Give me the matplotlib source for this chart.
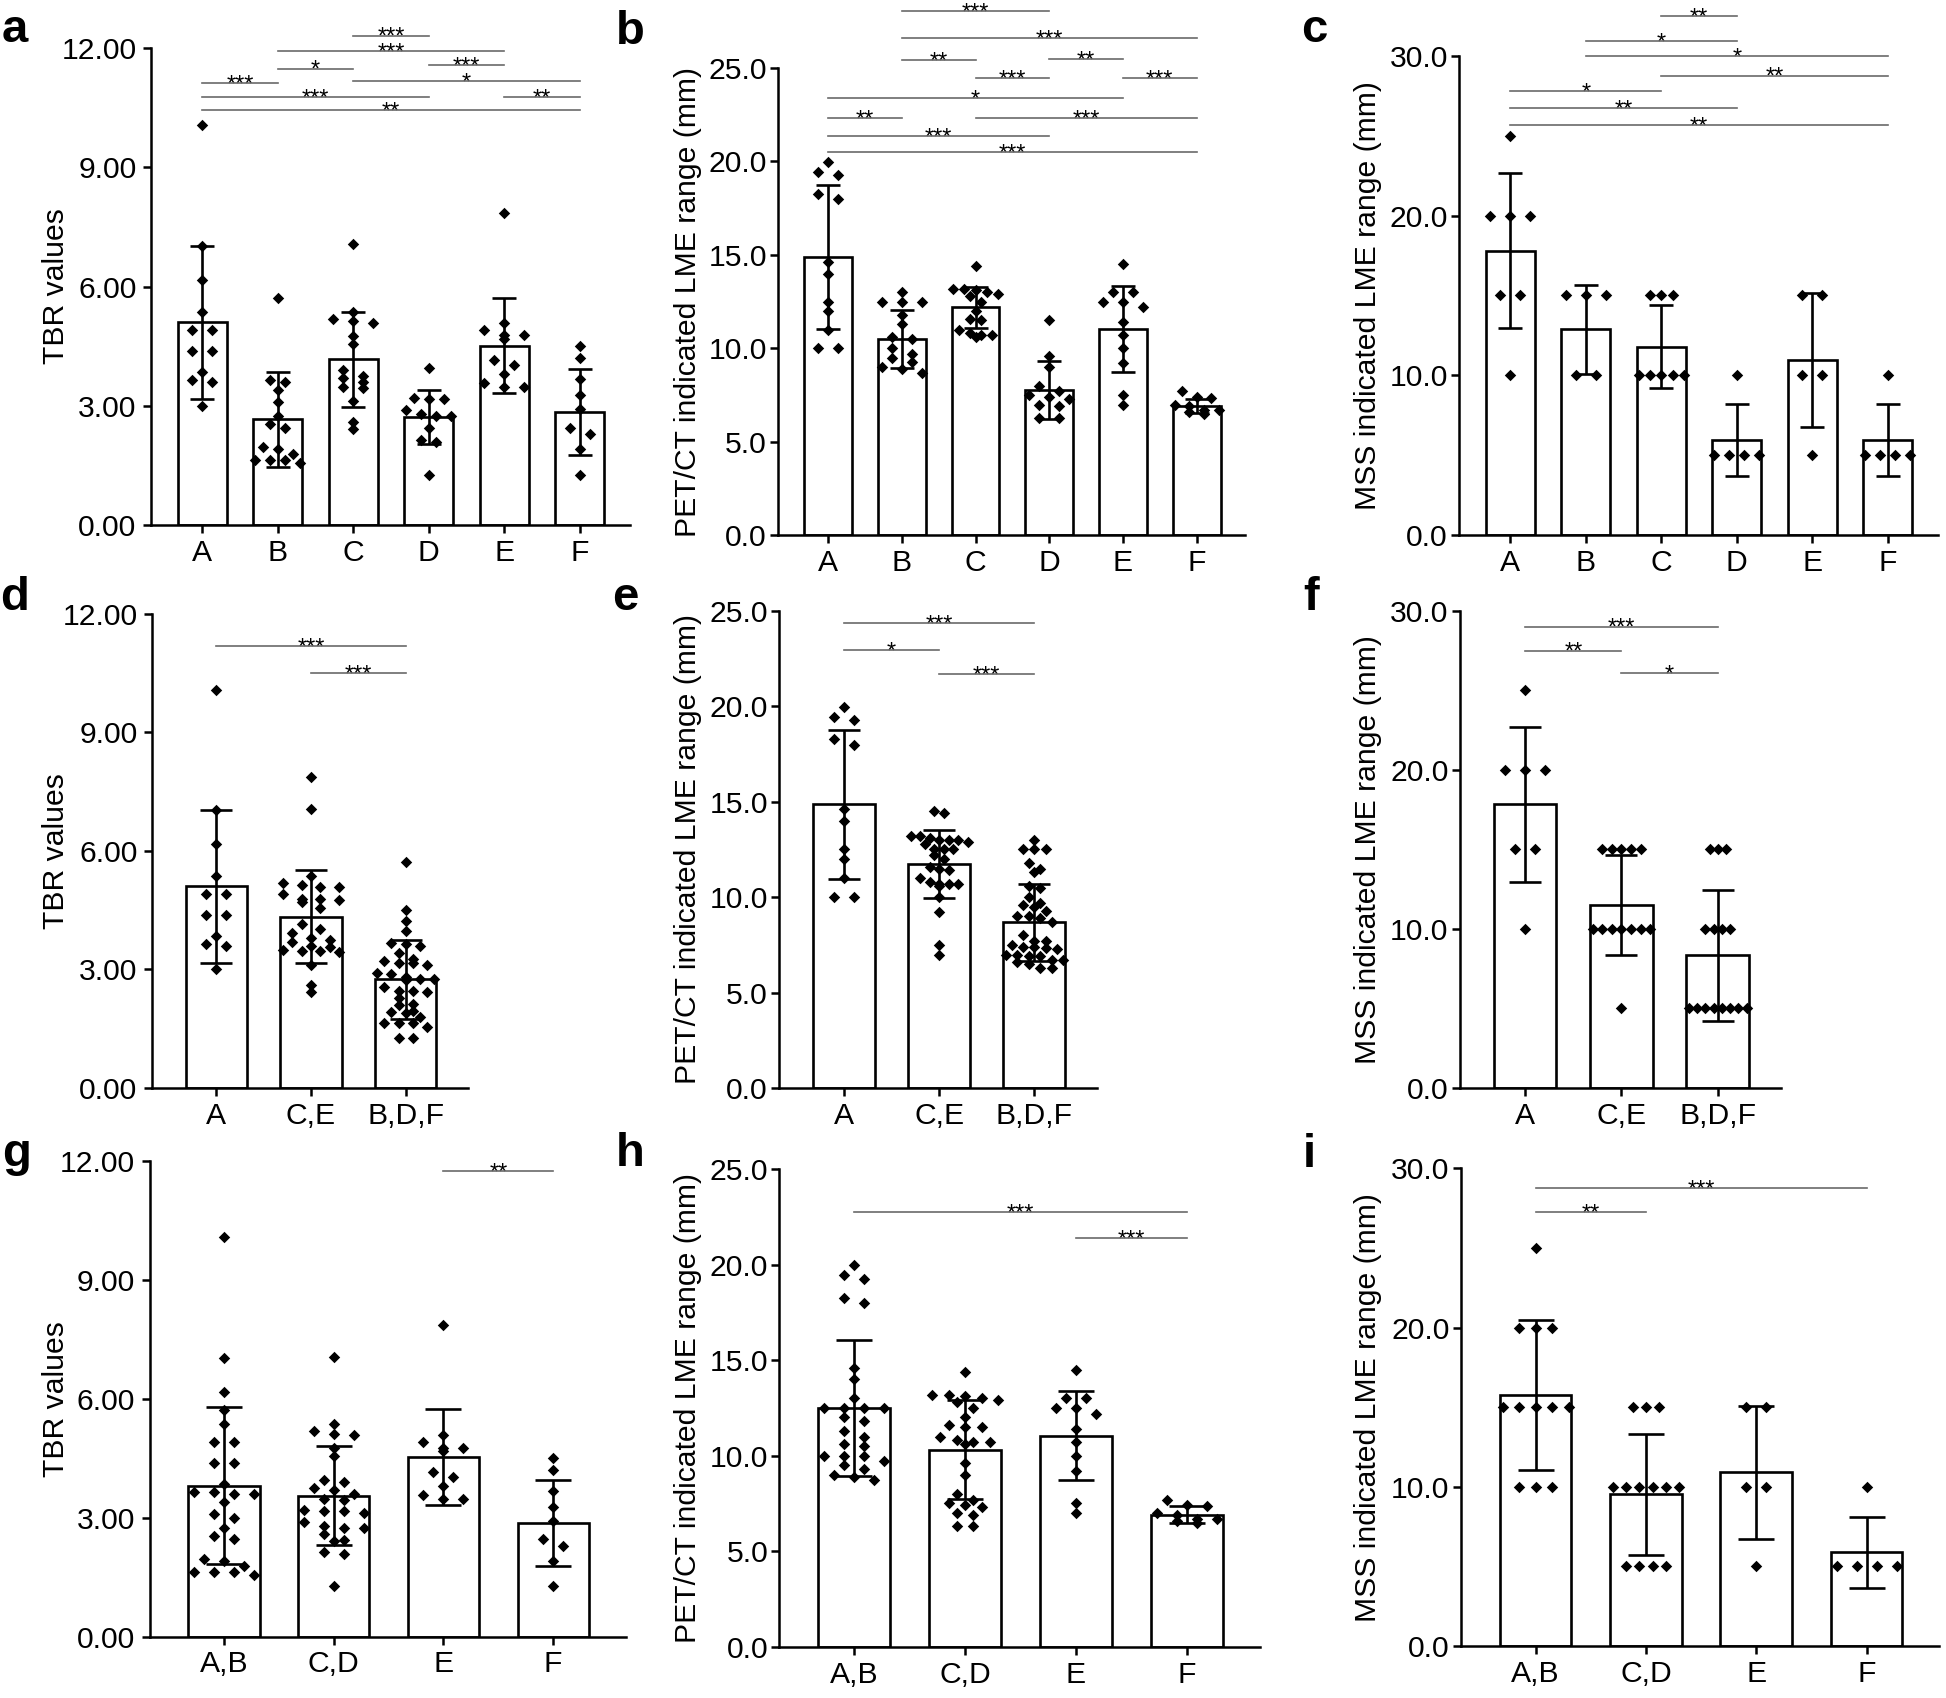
import matplotlib
matplotlib.use("Agg")
import matplotlib.pyplot as plt
import numpy as np

plt.rcParams['font.family'] = ['Liberation Sans', 'DejaVu Sans']

tbr_A = [10.07, 7.02, 6.17, 5.37, 4.90, 4.90, 4.38, 4.38, 3.85, 3.65, 3.60, 3.00]
tbr_B = [5.72, 3.65, 3.60, 3.40, 3.10, 2.75, 2.55, 2.45, 1.95, 1.90, 1.78, 1.63, 1.63, 1.63, 1.55]
tbr_C = [7.06, 5.37, 5.19, 5.12, 5.08, 4.76, 4.56, 3.91, 3.74, 3.69, 3.60, 3.46, 3.44, 3.12, 2.60, 2.42]
tbr_D = [3.96, 3.20, 3.16, 3.16, 2.89, 2.80, 2.75, 2.73, 2.43, 2.13, 2.09, 1.27]
tbr_E = [7.86, 5.08, 4.90, 4.77, 4.77, 4.69, 4.14, 4.03, 3.80, 3.57, 3.48, 3.46]
tbr_F = [4.50, 4.21, 3.67, 3.26, 2.91, 2.45, 2.28, 1.91, 1.27]

pet_A = [19.98, 19.46, 19.27, 18.27, 17.98, 14.6, 14.0, 12.5, 12.0, 11.0, 10.0, 10.0]
pet_B = [13.0, 12.5, 12.5, 12.5, 11.8, 11.3, 10.6, 10.5, 10.0, 9.7, 9.5, 9.3, 9.0, 8.9, 8.7]
pet_C = [14.4, 13.2, 13.2, 13.1, 13.0, 12.9, 12.8, 12.5, 12.0, 11.6, 11.5, 11.0, 10.8, 10.7, 10.7, 10.6]
pet_D = [11.5, 9.6, 9.0, 8.0, 7.7, 7.5, 7.4, 7.3, 7.0, 6.9, 6.3, 6.3]
pet_E = [14.5, 13.0, 13.0, 12.5, 12.5, 12.2, 11.4, 10.7, 10.0, 9.2, 7.5, 7.0]
pet_F = [7.7, 7.4, 7.35, 7.0, 6.9, 6.7, 6.7, 6.6, 6.5]

mss_A = [25, 20, 20, 20, 15, 15, 10]
mss_B = [15, 15, 15, 10, 10]
mss_C = [15, 15, 15, 10, 10, 10, 10, 10]
mss_D = [10, 5, 5, 5, 5]
mss_E = [15, 15, 10, 10, 5]
mss_F = [10, 5, 5, 5, 5]

cats_6 = ['A', 'B', 'C', 'D', 'E', 'F']
cats_3 = ['A', 'C,E', 'B,D,F']
cats_4 = ['A,B', 'C,D', 'E', 'F']

# ---- bar heights (mean) and SD, read per panel ----
a_mean = [5.10, 2.66, 4.17, 2.71, 4.51, 2.84]
a_sd = [1.93, 1.20, 1.20, 0.68, 1.20, 1.08]
b_mean = [14.89, 10.50, 12.21, 7.78, 11.04, 6.92]
b_sd = [3.87, 1.53, 1.10, 1.55, 2.30, 0.39]
c_mean = [17.80, 12.90, 11.80, 5.95, 10.95, 5.95]
c_sd = [4.86, 2.78, 2.60, 2.25, 4.20, 2.25]
d_mean = [5.10, 4.33, 2.75]
d_sd = [1.93, 1.18, 1.00]
e_mean = [14.87, 11.72, 8.68]
e_sd = [3.90, 1.78, 2.03]
f_mean = [17.83, 11.49, 8.32]
f_sd = [4.88, 3.14, 4.10]
g_mean = [3.80, 3.55, 4.53, 2.87]
g_sd = [1.98, 1.25, 1.20, 1.08]
h_mean = [12.50, 10.30, 11.05, 6.92]
h_sd = [3.58, 2.59, 2.31, 0.42]
i_mean = [15.75, 9.54, 10.90, 5.89]
i_sd = [4.70, 3.80, 4.20, 2.23]

# significance bars: (group from, group to, height, stars)
a_sig = [(2, 3, 12.31, '***'), (1, 4, 11.92, '***'), (1, 2, 11.48, '*'), (3, 4, 11.57, '***'),
         (2, 5, 11.17, '*'), (0, 1, 11.12, '***'), (0, 3, 10.76, '***'), (4, 5, 10.76, '**'),
         (0, 5, 10.44, '**')]
b_sig = [(1, 3, 28.05, '***'), (1, 5, 26.59, '***'), (1, 2, 25.41, '**'), (3, 4, 25.49, '**'),
         (2, 3, 24.44, '***'), (4, 5, 24.47, '***'), (0, 4, 23.37, '*'), (0, 1, 22.32, '**'),
         (2, 5, 22.32, '***'), (0, 3, 21.36, '***'), (0, 5, 20.49, '***')]
c_sig = [(2, 3, 32.45, '**'), (1, 3, 30.89, '*'), (1, 5, 29.95, '*'), (2, 5, 28.75, '**'),
         (0, 2, 27.80, '*'), (0, 3, 26.70, '**'), (0, 5, 25.64, '**')]
d_sig = [(0, 2, 11.17, '***'), (1, 2, 10.50, '***')]
e_sig = [(0, 2, 24.34, '***'), (0, 1, 22.92, '*'), (1, 2, 21.66, '***')]
f_sig = [(0, 2, 29.00, '***'), (0, 1, 27.49, '**'), (1, 2, 26.06, '*')]
g_sig = [(2, 3, 11.75, '**')]
h_sig = [(0, 3, 22.76, '***'), (2, 3, 21.39, '***')]
i_sig = [(0, 3, 28.76, '***'), (0, 1, 27.25, '**')]

tbr_ticks = [0, 3, 6, 9, 12]
pet_ticks = [0, 5, 10, 15, 20, 25]
mss_ticks = [0, 10, 20, 30]

W, H = 1946, 1698
fig = plt.figure(figsize=(W / 100, H / 100), dpi=100)
FS = 21.7


def swarm_x(center, vals, unit_px, cat_px, tol=7.0, max_gap=20.0):
    # simple row-based scatter spreading, like Prism's column scatter
    vals = np.asarray(vals, float)
    order = np.argsort(-vals, kind='stable')
    rows = []
    for k in order:
        if rows and (vals[rows[-1][0]] - vals[k]) * unit_px < tol:
            rows[-1].append(k)
        else:
            rows.append([k])
    widest = max(len(r) for r in rows)
    gap = max_gap if widest < 2 else min(max_gap, 0.6 * cat_px / (widest - 1))
    xs = np.full(len(vals), float(center))
    for r in rows:
        for n, k in enumerate(r):
            xs[k] = center + (n - (len(r) - 1) / 2) * gap / cat_px
    return xs


def draw_panel(letter, letter_xy, box, cats, groups, means, sds, sigs,
               ylabel, yticks, fmt, ylab_px, tick_pad):
    left, top, bottom, cat_px = box
    n = len(cats)
    width = (n - 1 + 1.34) * cat_px
    ax = fig.add_axes([left / W, 1 - bottom / H, width / W, (bottom - top) / H])
    x = np.arange(n)
    ymax = yticks[-1]
    unit_px = (bottom - top) / ymax

    ax.bar(x, means, width=0.65, color='white', edgecolor='black', linewidth=1.9, zorder=2)
    for i, g in enumerate(groups):
        ax.scatter(swarm_x(i, g, unit_px, cat_px), g, marker='D', s=34,
                   color='black', linewidths=0, zorder=3)
    ax.errorbar(x, means, yerr=sds, fmt='none', ecolor='black', elinewidth=1.9,
                capsize=0.165 * cat_px * 0.72, capthick=1.9, zorder=4)

    for i, j, y, lab in sigs:
        ax.plot([i, j], [y, y], color='#6a6a6a', lw=1.2, clip_on=False, zorder=5)
        ax.annotate(lab, xy=((i + j) / 2, y), xytext=(0, -6), textcoords='offset points',
                    ha='center', va='baseline', fontsize=17, annotation_clip=False)

    ax.set_xlim(-0.68, n - 1 + 0.66)
    ax.set_ylim(0, ymax)
    ax.set_xticks(x)
    ax.set_xticklabels(cats)
    ax.set_yticks(yticks)
    ax.set_yticklabels([fmt.format(t) for t in yticks])
    for s in ['top', 'right']:
        ax.spines[s].set_visible(False)
    for s in ['left', 'bottom']:
        ax.spines[s].set_linewidth(1.8)
    ax.tick_params(axis='y', direction='out', length=5.5, width=1.8, labelsize=FS, pad=tick_pad)
    ax.tick_params(axis='x', direction='out', length=6, width=1.8, labelsize=FS, pad=4)
    ax.set_ylabel(ylabel, fontsize=FS)
    ax.yaxis.set_label_coords((ylab_px - left) / width, 0.5)

    fig.text(letter_xy[0] / W, 1 - letter_xy[1] / H, letter, fontsize=34,
             fontweight='bold', ha='left', va='baseline')
    return ax


tbr_lab = 'TBR values'
pet_lab = 'PET/CT indicated LME range (mm)'
mss_lab = 'MSS indicated LME range (mm)'

# row 1
draw_panel('a', (2, 42), (151.0, 48.0, 525.0, 75.5), cats_6,
           [tbr_A, tbr_B, tbr_C, tbr_D, tbr_E, tbr_F], a_mean, a_sd, a_sig,
           tbr_lab, tbr_ticks, '{:.2f}', 70, 5)
draw_panel('b', (616, 43.6), (778.0, 68.0, 535.4, 73.7), cats_6,
           [pet_A, pet_B, pet_C, pet_D, pet_E, pet_F], b_mean, b_sd, b_sig,
           pet_lab, pet_ticks, '{:.1f}', 702, 2.5)
draw_panel('c', (1301, 41.8), (1459.0, 55.6, 535.4, 75.5), cats_6,
           [mss_A, mss_B, mss_C, mss_D, mss_E, mss_F], c_mean, c_sd, c_sig,
           mss_lab, mss_ticks, '{:.1f}', 1382, 2.5)

# row 2
draw_panel('d', (0, 609.6), (152.0, 613.6, 1087.8, 94.65), cats_3,
           [tbr_A, tbr_C + tbr_E, tbr_B + tbr_D + tbr_F], d_mean, d_sd, d_sig,
           tbr_lab, tbr_ticks, '{:.2f}', 70, 5)
draw_panel('e', (612, 609.6), (779.0, 610.7, 1088.2, 95.3), cats_3,
           [pet_A, pet_C + pet_E, pet_B + pet_D + pet_F], e_mean, e_sd, e_sig,
           pet_lab, pet_ticks, '{:.1f}', 702, 2.5)
draw_panel('f', (1303, 609.6), (1459.7, 610.7, 1087.8, 96.3), cats_3,
           [mss_A, mss_C + mss_E, mss_B + mss_D + mss_F], f_mean, f_sd, f_sig,
           mss_lab, mss_ticks, '{:.1f}', 1382, 2.5)

# row 3
draw_panel('g', (2, 1165.5), (149.5, 1160.9, 1636.6, 109.7), cats_4,
           [tbr_A + tbr_B, tbr_C + tbr_D, tbr_E, tbr_F], g_mean, g_sd, g_sig,
           tbr_lab, tbr_ticks, '{:.2f}', 70, 5)
draw_panel('h', (616, 1165.5), (779.2, 1169.1, 1646.7, 110.7), cats_4,
           [pet_A + pet_B, pet_C + pet_D, pet_E, pet_F], h_mean, h_sd, h_sig,
           pet_lab, pet_ticks, '{:.1f}', 702, 2.5)
draw_panel('i', (1303, 1167), (1460.6, 1168.4, 1646.0, 110.3), cats_4,
           [mss_A + mss_B, mss_C + mss_D, mss_E, mss_F], i_mean, i_sd, i_sig,
           mss_lab, mss_ticks, '{:.1f}', 1382, 2.5)

fig.savefig('out.png', dpi=100, facecolor='white')
